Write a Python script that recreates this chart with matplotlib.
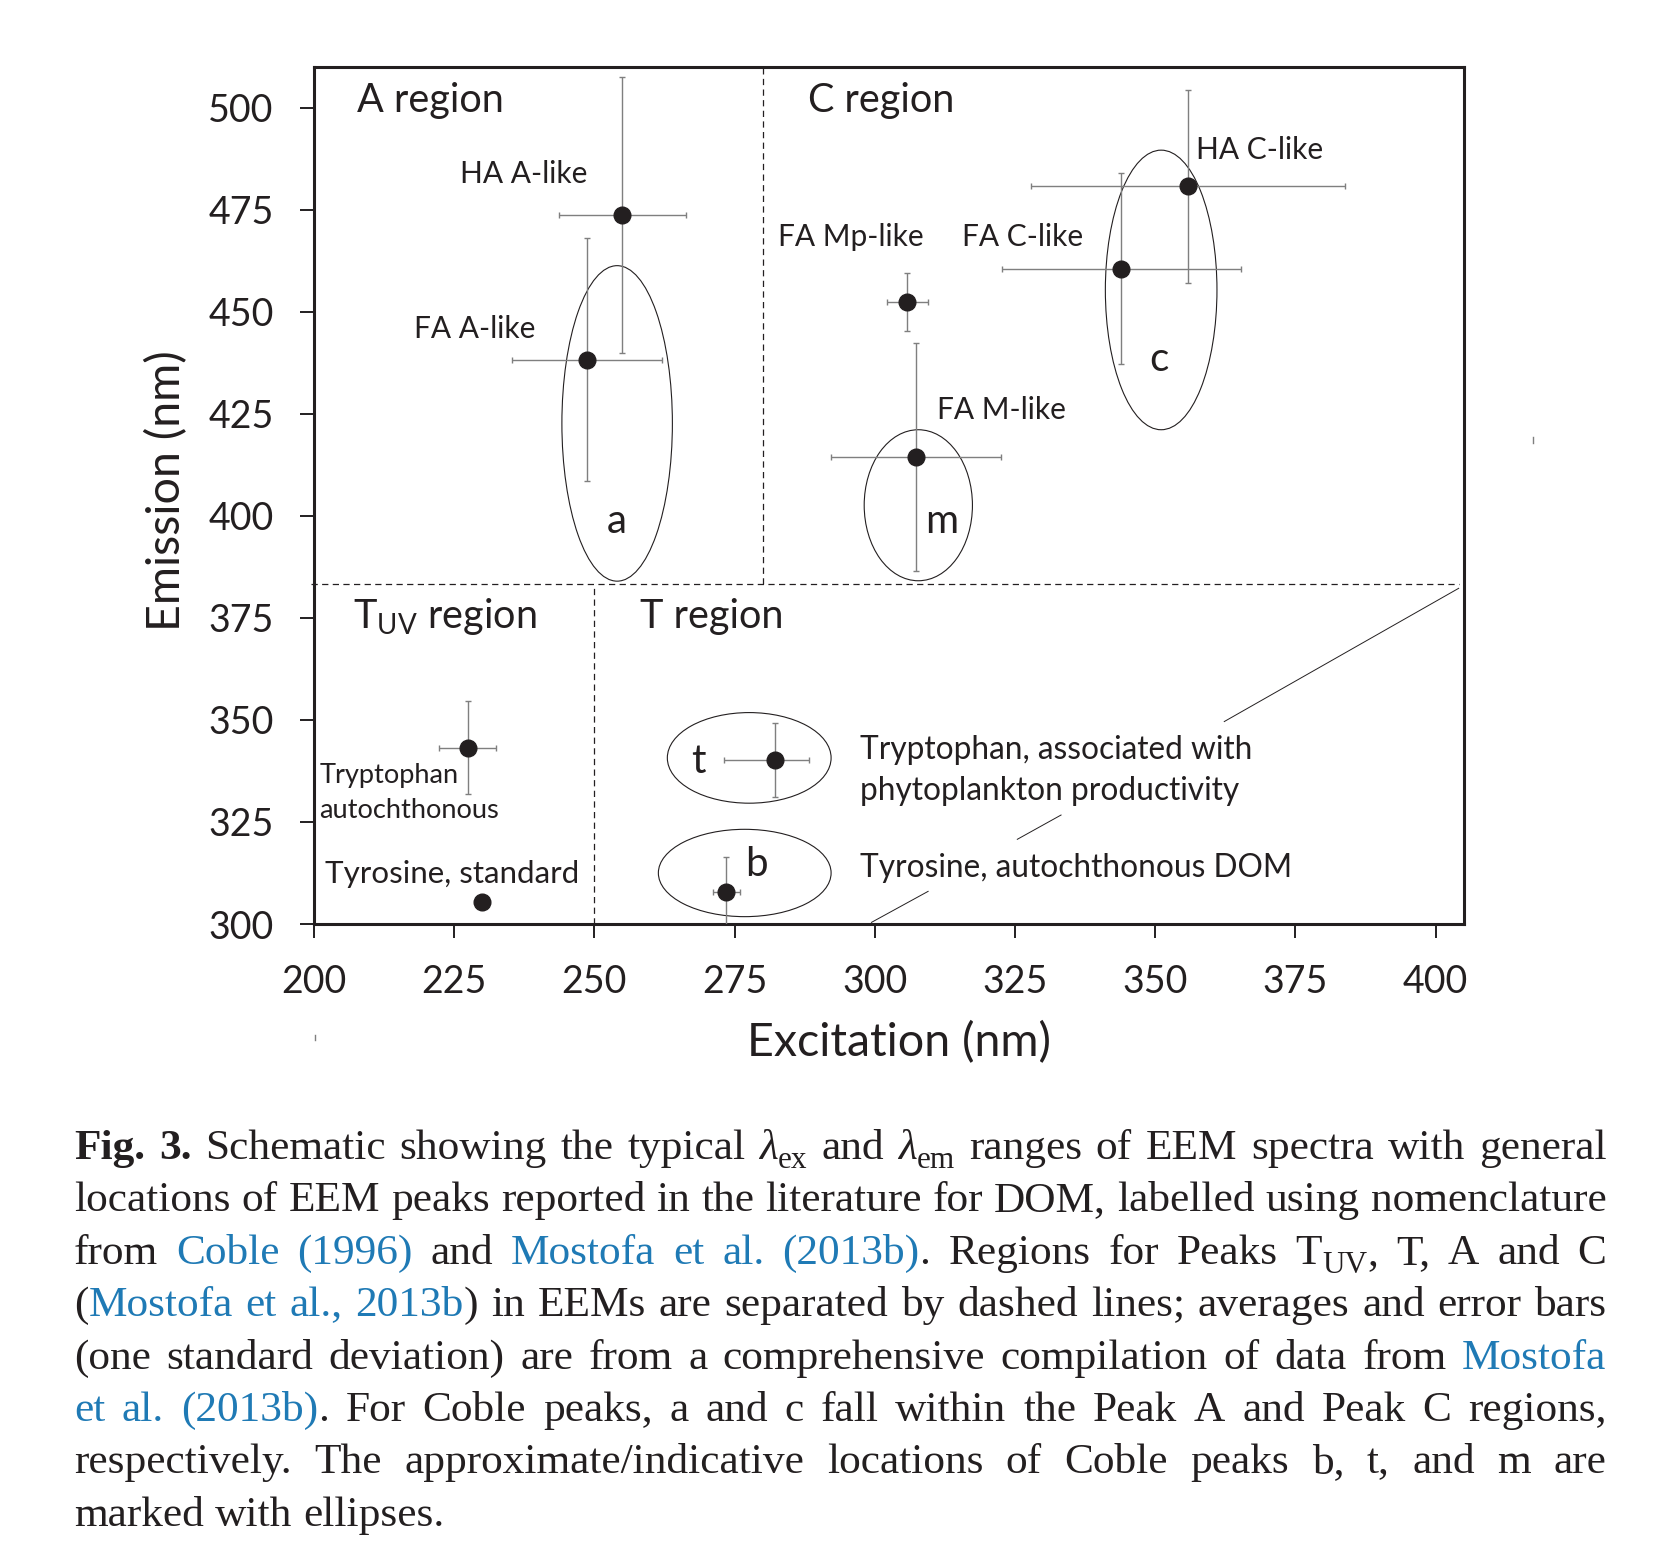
import re
import matplotlib
matplotlib.use('Agg')
import matplotlib.pyplot as plt
from matplotlib.patches import Ellipse
from matplotlib.lines import Line2D

plt.rcParams['font.family'] = ['Lato', 'DejaVu Sans']
plt.rcParams['mathtext.fontset'] = 'custom'
plt.rcParams['mathtext.rm'] = 'Lato'
plt.rcParams['mathtext.it'] = 'Lato:italic'

INK = '#231f20'
GREY = '#7f7f7f'
LINK = '#1f7ab5'

# ---------------- data ----------------
peak_labels = ['HA A-like', 'FA A-like', 'FA Mp-like', 'FA M-like', 'FA C-like',
               'HA C-like', 'Tryptophan autochthonous', 't', 'b']
peak_ex = [255.0, 248.7, 305.8, 307.3, 343.9, 355.9, 227.4, 282.2, 273.5]
peak_em = [473.7, 438.3, 452.4, 414.4, 460.5, 480.7, 343.2, 340.2, 307.9]
ex_sd_lo = [11.3, 13.4, 3.7, 15.2, 21.3, 28.0, 5.1, 9.1, 2.4]
ex_sd_hi = [11.3, 13.4, 3.7, 15.2, 21.3, 28.0, 5.1, 6.1, 2.4]
em_sd = [33.8, 29.7, 7.2, 28.0, 23.4, 23.7, 11.4, 9.0, 8.4]

tyr_std_ex = [229.9]
tyr_std_em = [305.5]

ell_names = ['a', 'm', 'c', 't', 'b']
ell_ex = [254.05, 307.75, 351.05, 277.6, 276.8]
ell_em = [422.65, 402.6, 455.35, 340.7, 312.5]
ell_w = [19.7, 19.3, 19.9, 29.2, 30.8]
ell_h = [77.3, 37.0, 68.5, 22.2, 21.4]
ell_lbl_ex = [254.0, 312.0, 350.6, 268.5, 278.9]
ell_lbl_em = [395.9, 395.9, 435.5, 337.1, 311.8]

# region boundaries
em_split = 383.3
ex_split_upper = 280.0
ex_split_lower = 250.0

x_ticks = [200, 225, 250, 275, 300, 325, 350, 375, 400]
y_ticks = [300, 325, 350, 375, 400, 425, 450, 475, 500]

# point labels: text, ex (left), em (baseline), size
point_texts = [
    ('HA A-like', 226.0, 481.5, 21.5),
    ('FA A-like', 217.9, 443.5, 21.5),
    ('FA Mp-like', 282.8, 466.2, 21.5),
    ('FA C-like', 315.6, 466.2, 21.5),
    ('HA C-like', 357.3, 487.5, 21.5),
    ('FA M-like', 311.0, 423.65, 21.5),
    ('Tryptophan', 201.0, 334.6, 19.6),
    ('autochthonous', 201.0, 325.9, 19.6),
    ('Tyrosine, standard', 202.0, 309.95, 22.6),
    ('Tryptophan, associated with', 297.4, 340.35, 22.8),
    ('phytoplankton productivity', 297.4, 330.4, 22.8),
    ('Tyrosine, autochthonous DOM', 297.4, 311.6, 22.8),
]
region_texts = [
    ('A region', 207.7, 498.85),
    ('C region', 288.1, 498.85),
    (r'$\mathrm{T_{UV}}$ region', 206.9, 372.45),
    ('T region', 258.1, 372.45),
]
leader_lines = [
    ([362.3, 404.1], [349.6, 382.25]),
    ([325.4, 333.2], [320.75, 326.7]),
    ([299.4, 309.5], [300.4, 308.0]),
]

# ---------------- figure ----------------
W, H = 1655, 1541
fig = plt.figure(figsize=(W / 100, H / 100), dpi=100)
ax = fig.add_axes([314 / W, 1 - 924 / H, (1464.3 - 314) / W, (924 - 67.3) / H])
ax.set_xlim(200, 405.1)
ax.set_ylim(300, 509.9)

for s in ax.spines.values():
    s.set_linewidth(2.2)
    s.set_color(INK)
ax.set_xticks(x_ticks)
ax.set_yticks(y_ticks)
ax.tick_params(axis='both', direction='out', length=10, width=1.4, color=INK,
               labelsize=27, labelcolor=INK, pad=19)

# dashed region boundaries
dash = dict(color=INK, lw=0.9, linestyle=(0, (5, 3.5)), zorder=1)
ax.plot([199.4, 404.1], [em_split, em_split], clip_on=False, **dash)
ax.plot([ex_split_upper, ex_split_upper], [em_split, 509.9], **dash)
ax.plot([ex_split_lower, ex_split_lower], [300, em_split], **dash)

# ellipses
for x, y, w, h in zip(ell_ex, ell_em, ell_w, ell_h):
    ax.add_patch(Ellipse((x, y), w, h, fill=False, lw=0.8, ec=INK, zorder=2))
for n, x, y in zip(ell_names, ell_lbl_ex, ell_lbl_em):
    ax.text(x, y, n, ha='center', va='baseline', fontsize=29, color=INK)

# error bars + points
for x, y, xl, xh, ye in zip(peak_ex, peak_em, ex_sd_lo, ex_sd_hi, em_sd):
    ax.errorbar([x], [y], xerr=[[xl], [xh]], yerr=[[ye], [ye]], fmt='o',
                ms=12, mfc=INK, mec=INK, ecolor=GREY, elinewidth=1.0,
                capsize=2.3, capthick=1.0, zorder=3)
ax.plot(tyr_std_ex, tyr_std_em, 'o', ms=12, color=INK, zorder=3)

# leader lines
for xs, ys in leader_lines:
    ax.plot(xs, ys, color=INK, lw=0.7, zorder=2)

# texts
for t, x, y, fs in point_texts:
    ax.text(x, y, t, ha='left', va='baseline', fontsize=fs, color=INK)
for t, x, y in region_texts:
    ax.text(x, y, t, ha='left', va='baseline', fontsize=28.5, color=INK)

# axis labels
fig.text(899 / W, 1 - 1043 / H, 'Excitation (nm)', ha='center', va='center',
         fontsize=33.5, color=INK)
fig.text(166.8 / W, 1 - 491 / H, 'Emission (nm)', ha='center', va='center',
         fontsize=33.5, color=INK, rotation=90)

# small stray marks in the original
fig.add_artist(Line2D([1532.6 / W, 1532.6 / W], [1 - 437 / H, 1 - 443 / H], color=GREY, lw=1))
fig.add_artist(Line2D([314.5 / W, 314.5 / W], [1 - 1035 / H, 1 - 1040 / H], color=GREY, lw=1))

# ---------------- caption ----------------
caption_lines = [
    "[b:Fig.] [b:3.] Schematic showing the typical [i:λ][s:ex] and [i:λ][s:em] ranges of EEM spectra with general",
    "locations of EEM peaks reported in the literature for DOM, labelled using nomenclature",
    "from [l:Coble] [l:(1996)] and [l:Mostofa] [l:et] [l:al.] [l:(2013b)]. Regions for Peaks T[s:UV], T, A and C",
    "([l:Mostofa] [l:et] [l:al.,] [l:2013b]) in EEMs are separated by dashed lines; averages and error bars",
    "(one standard deviation) are from a comprehensive compilation of data from [l:Mostofa]",
    "[l:et] [l:al.] [l:(2013b)]. For Coble peaks, a and c fall within the Peak A and Peak C regions,",
    "respectively. The approximate/indicative locations of Coble peaks b, t, and m are",
    "marked with ellipses.",
]
cap_left, cap_right = 74.0, 1606.5
cap_base0, cap_step = 1159.0, 52.4
CAP_FONT = ['Liberation Serif', 'DejaVu Serif']

renderer = fig.canvas.get_renderer()


def seg_kwargs(code, fs):
    kw = dict(family=CAP_FONT, fontsize=fs, color=INK, ha='left', va='baseline')
    if code == 'b':
        kw['weight'] = 'bold'
    elif code == 'l':
        kw['color'] = LINK
    elif code == 'i':
        kw['style'] = 'italic'
    elif code == 's':
        kw['fontsize'] = fs * 0.72
    return kw


def measure(text, kw):
    t = fig.text(0, 0, text, **kw)
    w = t.get_window_extent(renderer).width
    return t, w


def parse(line):
    words = []
    for word in line.split(' '):
        segs = []
        for m in re.finditer(r'\[(\w):([^\]]*)\]|([^\[]+)', word):
            if m.group(1):
                segs.append((m.group(2), m.group(1)))
            else:
                segs.append((m.group(3), 'n'))
        words.append(segs)
    return words


def layout(fs, place):
    t1, w_aa = measure('aa', seg_kwargs('n', fs))
    t2, w_a_a = measure('a a', seg_kwargs('n', fs))
    t1.remove(); t2.remove()
    space_w = w_a_a - w_aa
    worst = 0
    for li, line in enumerate(caption_lines):
        base = cap_base0 + li * cap_step
        words = []
        for segs in parse(line):
            arts = []
            wsum = 0
            for txt, code in segs:
                t, w = measure(txt, seg_kwargs(code, fs))
                arts.append((t, w, code))
                wsum += w
            words.append((arts, wsum))
        total = sum(w for _, w in words)
        natural = total + space_w * (len(words) - 1)
        if li < len(caption_lines) - 1:
            worst = max(worst, natural)
            gap = (cap_right - cap_left - total) / (len(words) - 1)
        else:
            gap = space_w
        x = cap_left
        for arts, wsum in words:
            for t, w, code in arts:
                if place:
                    dy = 9 if code == 's' else 0
                    t.set_position((x / W, 1 - (base + dy) / H))
                else:
                    t.remove()
                x += w
            x += gap
    return worst


base_fs = 30
worst = layout(base_fs, place=False)
cap_fs = base_fs * (cap_right - cap_left) / worst
cap_fs = max(28.5, min(cap_fs, 33))
layout(cap_fs, place=True)

fig.savefig('out.png', dpi=100)
